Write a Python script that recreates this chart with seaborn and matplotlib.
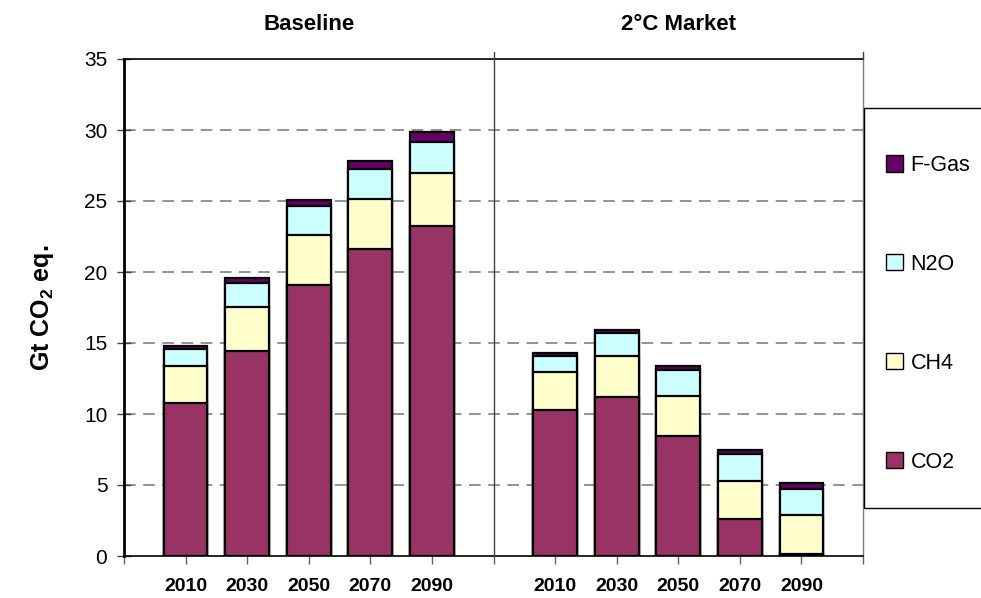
import numpy as np
import pandas as pd
import matplotlib
matplotlib.use("Agg")
import matplotlib.pyplot as plt
import seaborn as sns
from matplotlib.patches import Rectangle, Patch

# ---- data ----
scenarios = ["Baseline", "2°C Market"]
years = ["2010", "2030", "2050", "2070", "2090"]
gases = ["CO2", "CH4", "N2O", "F-Gas"]
co2 = [10.8, 14.46, 19.1, 21.6, 23.26, 10.3, 11.2, 8.47, 2.6, 0.14]
ch4 = [2.6, 3.1, 3.48, 3.52, 3.74, 2.63, 2.9, 2.82, 2.68, 2.75]
n2o = [1.2, 1.7, 2.04, 2.11, 2.18, 1.17, 1.58, 1.81, 1.88, 1.85]
fgas = [0.2, 0.3, 0.47, 0.6, 0.7, 0.17, 0.24, 0.28, 0.3, 0.38]
colors = {"CO2": "#993366", "CH4": "#FFFFCC", "N2O": "#CCFFFF", "F-Gas": "#660066"}

positions = [1, 2, 3, 4, 5, 7, 8, 9, 10, 11]
df = pd.DataFrame({
    "pos": positions,
    "CO2": co2, "CH4": ch4, "N2O": n2o, "F-Gas": fgas,
})
df["c1"] = df["CO2"]
df["c2"] = df["c1"] + df["CH4"]
df["c3"] = df["c2"] + df["N2O"]
df["c4"] = df["c3"] + df["F-Gas"]

sns.set_theme(style="white")
plt.rcParams["font.family"] = ["Liberation Sans", "DejaVu Sans"]
plt.rcParams["mathtext.fontset"] = "custom"
plt.rcParams["mathtext.rm"] = "Liberation Sans"
plt.rcParams["mathtext.bf"] = "Liberation Sans:bold"
for k in ["text.color", "axes.labelcolor", "xtick.color", "ytick.color"]:
    plt.rcParams[k] = "black"

fig = plt.figure(figsize=(9.81, 5.98), dpi=100)
ax = fig.add_axes([124 / 981, 42 / 598, (863 - 124) / 981, (556 - 59) / 598])

# gridlines
for v in range(5, 35, 5):
    ax.axhline(v, color="#808080", lw=1.2, ls=(0, (7, 4.5)), zorder=0)

# stacked bars via overlapping totals
for col, gas in zip(["c4", "c3", "c2", "c1"], ["F-Gas", "N2O", "CH4", "CO2"]):
    sns.barplot(data=df, x="pos", y=col, native_scale=True, width=0.71,
                color=colors[gas], saturation=1, edgecolor="black",
                linewidth=1.6, ax=ax, zorder=2)

ax.set_xlim(0, 12)
ax.set_ylim(0, 35)
ax.set_yticks(range(0, 36, 5))
ax.set_yticklabels([str(v) for v in range(0, 36, 5)], fontsize=15)
ax.set_xticks(range(0, 13))
labels = [""] * 13
for p, y in zip(positions, years * 2):
    labels[p] = y
ax.set_xticklabels(labels, fontsize=14, fontweight="bold")
ax.tick_params(axis="y", direction="inout", length=10, width=1, color="#404040", pad=7, left=True)
ax.tick_params(axis="x", direction="out", length=6, width=1, color="#606060", pad=10, bottom=True)
ax.set_xlabel("")
ax.set_ylabel(r"Gt CO$_\mathbf{2}$ eq.", fontsize=18, fontweight="bold", labelpad=20)

for s in ["left", "bottom", "top"]:
    ax.spines[s].set_color("black")
    ax.spines[s].set_visible(True)
ax.spines["left"].set_linewidth(2)
ax.spines["bottom"].set_linewidth(1.2)
ax.spines["top"].set_linewidth(1.2)
ax.spines["right"].set_color("#808080")
ax.spines["right"].set_linewidth(1)

# divider between scenarios
ax.axvline(6, ymin=0, ymax=1.015, color="#404040", lw=1, clip_on=False, zorder=3)
ax.axvline(12, ymin=1.0, ymax=1.015, color="#404040", lw=1, clip_on=False, zorder=3)

# scenario titles
for xc, name in zip([3, 9], scenarios):
    ax.text(xc, 1.0 + 34 / 497, name, transform=ax.get_xaxis_transform(),
            ha="center", va="center", fontsize=16, fontweight="bold")

# legend box
fig.patches.append(Rectangle((864 / 981, (598 - 508) / 598), 0.2, 400 / 598,
                             transform=fig.transFigure, facecolor="white",
                             edgecolor="black", lw=1, zorder=5))
handles = [Patch(facecolor=colors[g], edgecolor="black", lw=1) for g in ["F-Gas", "N2O", "CH4", "CO2"]]
leg = fig.legend(handles, ["F-Gas", "N2O", "CH4", "CO2"], loc="upper left",
                 bbox_to_anchor=(875 / 981, (598 - 144) / 598), frameon=False,
                 fontsize=15.5, handlelength=0.8, handleheight=0.8,
                 handletextpad=0.35, labelspacing=3.62, borderpad=0)
leg.set_zorder(6)

fig.savefig("out.png", dpi=100)
